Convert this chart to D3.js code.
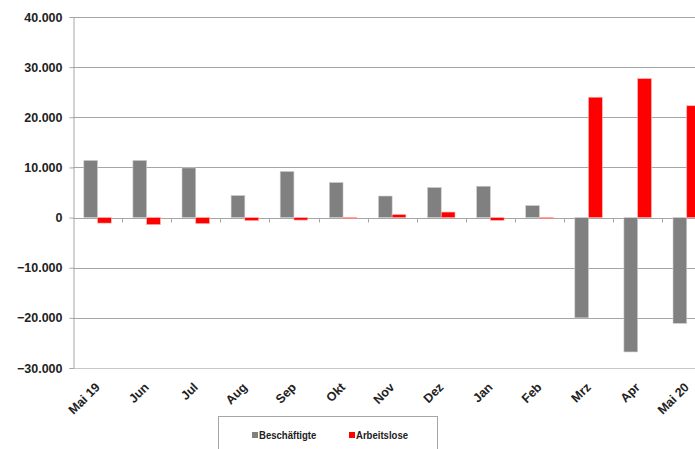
<!DOCTYPE html>
<html>
<head>
<meta charset="utf-8">
<script src="https://cdn.jsdelivr.net/npm/d3@7"></script>
<style>
  body { margin: 0; background: #fff; }
  text { font-family: "Liberation Sans", Arial, sans-serif; font-weight: bold; fill: #222; }
</style>
</head>
<body>
<div id="chart"></div>
<script>
// months shown on the x axis
var months = ["Mai 19", "Jun", "Jul", "Aug", "Sep", "Okt", "Nov", "Dez", "Jan", "Feb", "Mrz", "Apr", "Mai 20"];
// change vs previous year
var beschaeftigte = [11400, 11400, 9900, 4400, 9200, 7000, 4300, 6000, 6250, 2400, -20000, -26800, -21100];
var arbeitslose = [-1100, -1400, -1200, -600, -500, -200, 600, 1100, -550, -200, 24000, 27700, 22300];
var yTicks = [40000, 30000, 20000, 10000, 0, -10000, -20000, -30000];
var seriesNames = ["Beschäftigte", "Arbeitslose"];
var seriesColors = ["#808080", "#ff0000"];

var svgWidth = 695, svgHeight = 449;
var plotLeft = 73, plotTop = 17, plotBottom = 368;

var de = d3.formatLocale({ decimal: ",", thousands: ".", grouping: [3], currency: ["", " €"] });
var fmt = de.format(",d");

var svg = d3.select("#chart").append("svg")
  .attr("width", svgWidth)
  .attr("height", svgHeight);

var y = d3.scaleLinear().domain([-30000, 40000]).range([plotBottom, plotTop]);
var x = d3.scaleBand().domain(months).range([plotLeft, plotLeft + 13 * 49.1]).padding(0);
var inner = d3.scaleBand().domain([0, 1]).range([0, x.bandwidth() * 0.56]);
var offset = (x.bandwidth() - x.bandwidth() * 0.56) / 2;

// gridlines
svg.append("g").selectAll("line")
  .data(yTicks).enter()
  .append("line")
  .attr("x1", plotLeft).attr("x2", svgWidth)
  .attr("y1", function(d){ return Math.round(y(d)) + 0.5; })
  .attr("y2", function(d){ return Math.round(y(d)) + 0.5; })
  .attr("stroke", function(d){ return d === -30000 ? "#c8c8c8" : "#a6a6a6"; })
  .attr("stroke-width", 1);

// y axis
var yAxis = d3.axisLeft(y).tickValues(yTicks).tickSize(4).tickPadding(7).tickFormat(fmt);
var gy = svg.append("g").attr("transform", "translate(" + (plotLeft + 0.5) + ",0)").call(yAxis);
gy.select(".domain").attr("stroke", "#a6a6a6");
gy.selectAll(".tick line").attr("stroke", "#a6a6a6");
gy.selectAll(".tick text").style("font-size", "12.5px").attr("fill", "#222");

// bars
var data = months.map(function(m, i){ return { month: m, vals: [beschaeftigte[i], arbeitslose[i]] }; });
var groups = svg.append("g").selectAll("g")
  .data(data).enter()
  .append("g")
  .attr("transform", function(d){ return "translate(" + (x(d.month) + offset) + ",0)"; });

groups.selectAll("rect")
  .data(function(d){ return d.vals.map(function(v, k){ return { k: k, v: v }; }); })
  .enter().append("rect")
  .attr("x", function(d){ return inner(d.k); })
  .attr("width", inner.bandwidth())
  .attr("y", function(d){ return Math.min(y(d.v), y(0)); })
  .attr("height", function(d){ return Math.abs(y(d.v) - y(0)); })
  .attr("fill", function(d){ return seriesColors[d.k]; })
  .attr("stroke", function(d){ return d.k === 0 ? "#d0d0d0" : "#ffb0b0"; })
  .attr("stroke-width", 0.6);

// x ticks on the zero line
var zeroY = Math.round(y(0)) + 0.5;
svg.append("g").selectAll("line")
  .data(months.slice(1)).enter()
  .append("line")
  .attr("x1", function(d){ return Math.round(x(d)) + 0.5; })
  .attr("x2", function(d){ return Math.round(x(d)) + 0.5; })
  .attr("y1", zeroY).attr("y2", zeroY + 4)
  .attr("stroke", "#a6a6a6");

// month labels, rotated
svg.append("g").selectAll("text")
  .data(months).enter()
  .append("text")
  .attr("transform", function(d){
    return "translate(" + (x(d) + x.bandwidth() / 2 + 3) + "," + 388 + ") rotate(-45)";
  })
  .attr("text-anchor", "end")
  .style("font-size", "12.5px")
  .text(function(d){ return d; });

// legend
var legend = svg.append("g");
legend.append("rect")
  .attr("x", 218.5).attr("y", 416.5)
  .attr("width", 219).attr("height", 40)
  .attr("fill", "#fff").attr("stroke", "#a6a6a6");

var legX = [252, 349];
seriesNames.forEach(function(name, i){
  legend.append("rect")
    .attr("x", legX[i]).attr("y", 432)
    .attr("width", 6).attr("height", 6)
    .attr("fill", seriesColors[i]);
  legend.append("text")
    .attr("transform", "translate(" + (legX[i] + 7) + ",439) scale(0.87,1)")
    .style("font-size", "11px")
    .text(name);
});
</script>
</body>
</html>
